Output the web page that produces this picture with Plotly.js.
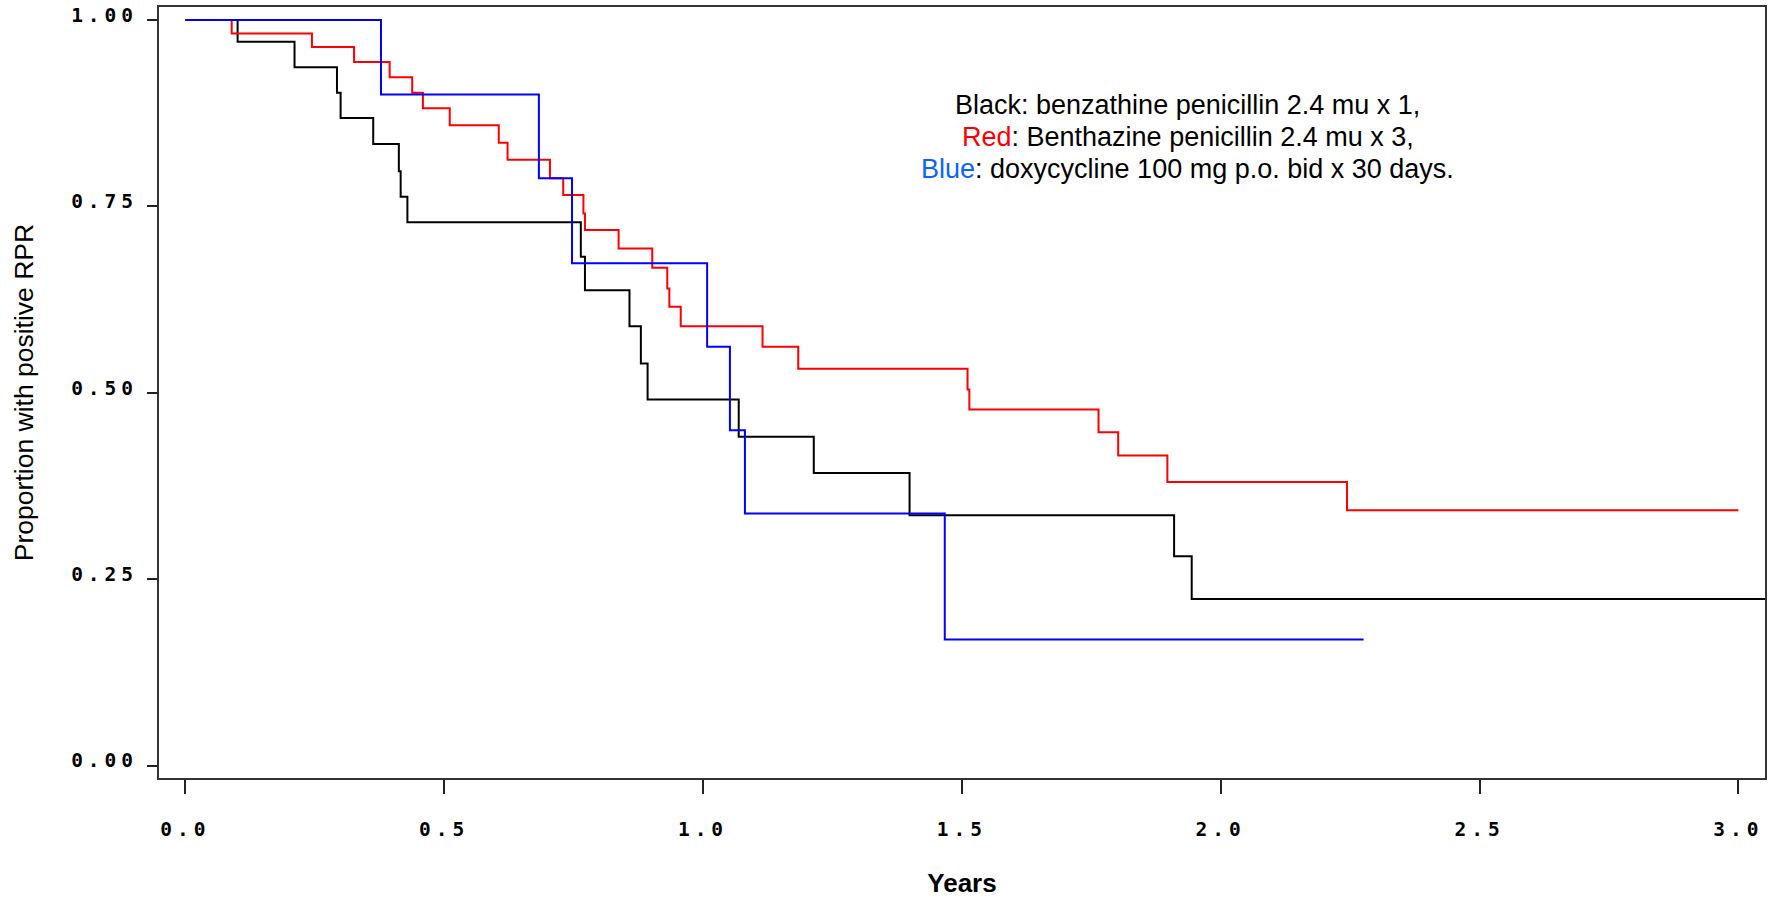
<!DOCTYPE html>
<html>
<head>
<meta charset="utf-8">
<script src="https://cdn.plot.ly/plotly-3.0.1.min.js"></script>
<style>
  html, body { margin: 0; padding: 0; background: #fff; }
  #chart { width: 1769px; height: 898px; }
  .xtick text, .ytick text { letter-spacing: 5px; }
</style>
</head>
<body>
<div id="chart"></div>
<script>
// Kaplan-Meier step data (years, proportion with positive RPR)
const blackYears = [0, 0.101, 0.211, 0.293, 0.300, 0.363, 0.4125, 0.416, 0.429, 0.764, 0.772, 0.858, 0.880, 0.893, 1.069, 1.214, 1.399, 1.910, 1.944, 3.06];
const blackProp  = [1.0, 0.971, 0.9365, 0.9025, 0.8685, 0.8336, 0.797, 0.763, 0.7286, 0.6824, 0.6377, 0.5894, 0.5394, 0.491, 0.4409, 0.3926, 0.3358, 0.2808, 0.2236, 0.2236];

const redYears = [0, 0.0896, 0.2446, 0.326, 0.3947, 0.4383, 0.459, 0.5108, 0.6055, 0.6225, 0.7044, 0.730, 0.769, 0.772, 0.837, 0.902, 0.931, 0.935, 0.957, 1.115, 1.184, 1.511, 1.5145, 1.764, 1.802, 1.897, 2.244, 3.0];
const redProp  = [1.0, 0.982, 0.9638, 0.9437, 0.9231, 0.9025, 0.8815, 0.8587, 0.8354, 0.8126, 0.7876, 0.7652, 0.7406, 0.7183, 0.6937, 0.6677, 0.640, 0.6153, 0.5894, 0.5617, 0.5322, 0.5045, 0.4776, 0.4472, 0.4159, 0.3805, 0.3425, 0.3425];

const blueYears = [0, 0.378, 0.683, 0.747, 1.008, 1.052, 1.081, 1.467, 2.276];
const blueProp  = [1.0, 0.900, 0.7876, 0.6736, 0.5617, 0.4499, 0.3381, 0.169, 0.169];

const xTickVals = [0, 0.5, 1.0, 1.5, 2.0, 2.5, 3.0];
const xTickText = ['0.0', '0.5', '1.0', '1.5', '2.0', '2.5', '3.0'];
const yTickVals = [0, 0.25, 0.5, 0.75, 1.0];
const yTickText = ['0.00', '0.25', '0.50', '0.75', '1.00'];

const legendLines = [
  '<span style="color:#000000">Black</span>: benzathine penicillin 2.4 mu x 1,',
  '<span style="color:#ff0000">Red</span>: Benthazine penicillin 2.4 mu x 3,',
  '<span style="color:#0a64ff">Blue</span>: doxycycline 100 mg p.o. bid x 30 days.'
];

const traces = [
  { x: blackYears, y: blackProp, type: 'scatter', mode: 'lines', name: 'Black',
    line: { shape: 'hv', color: '#000000', width: 2 }, hoverinfo: 'skip' },
  { x: redYears, y: redProp, type: 'scatter', mode: 'lines', name: 'Red',
    line: { shape: 'hv', color: '#ff0000', width: 2 }, hoverinfo: 'skip' },
  { x: blueYears, y: blueProp, type: 'scatter', mode: 'lines', name: 'Blue',
    line: { shape: 'hv', color: '#0000ff', width: 2 }, hoverinfo: 'skip' }
];

const tickFont = { family: 'DejaVu Sans Mono, monospace', size: 19.5, weight: 'bold', color: '#000' };
const legendY = [0.8864, 0.8428, 0.7997];

const layout = {
  width: 1769, height: 898,
  margin: { l: 159, r: 4, t: 7, b: 120, pad: 0 },
  paper_bgcolor: '#ffffff', plot_bgcolor: '#ffffff',
  showlegend: false,
  xaxis: {
    range: [-0.0508, 3.0514],
    tickmode: 'array', tickvals: xTickVals, ticktext: xTickText,
    ticks: 'outside', ticklen: 14, tickwidth: 2, tickcolor: '#222',
    showline: true, linecolor: '#333', linewidth: 2, mirror: true,
    showgrid: false, zeroline: false,
    tickfont: tickFont, ticklabelstandoff: 19,
    title: { text: 'Years', font: { family: 'Liberation Sans, Arial, sans-serif', size: 26, weight: 'bold', color: '#000' }, standoff: 40 }
  },
  yaxis: {
    range: [-0.01664, 1.01745],
    tickmode: 'array', tickvals: yTickVals, ticktext: yTickText,
    ticks: 'outside', ticklen: 10, tickwidth: 2, tickcolor: '#222',
    showline: true, linecolor: '#333', linewidth: 2, mirror: true,
    showgrid: false, zeroline: false,
    tickfont: tickFont, ticklabelstandoff: 5, ticklabelshift: -5,
    title: { text: 'Proportion with positive RPR', font: { family: 'Liberation Sans, Arial, sans-serif', size: 26.5, color: '#000' }, standoff: 30 }
  },
  annotations: legendLines.map((t, i) => ({
    text: t, xref: 'x', yref: 'y', x: 1.9365, y: legendY[i],
    xanchor: 'center', yanchor: 'middle', showarrow: false, align: 'center',
    font: { family: 'Liberation Sans, Arial, sans-serif', size: 27, color: '#000' }
  }))
};

Plotly.newPlot('chart', traces, layout, { displayModeBar: false, staticPlot: true });
</script>
</body>
</html>
